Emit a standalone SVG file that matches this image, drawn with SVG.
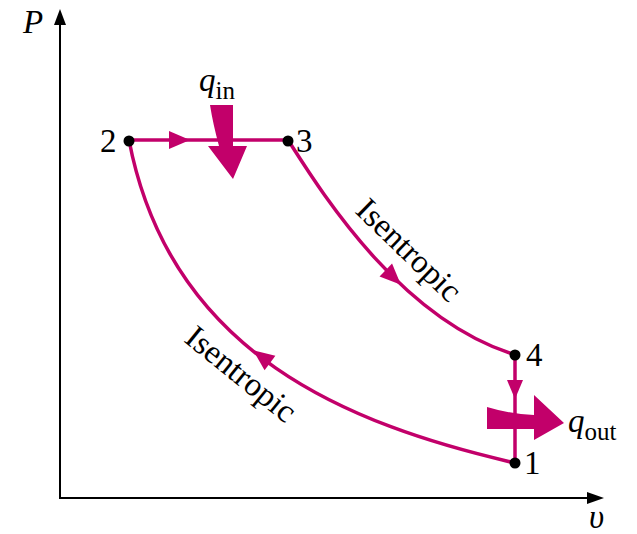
<svg xmlns="http://www.w3.org/2000/svg" width="637" height="534" viewBox="0 0 637 534">
<style>
.ax{stroke:#000;stroke-width:2;fill:none}
.pr{stroke:#C2006A;stroke-width:3.5;fill:none}
.mf{fill:#C2006A}
.dot{fill:#000}
.lbl{font-family:"Liberation Serif","Times New Roman",serif;font-size:33px;fill:#000}
.it{font-style:italic}
</style>
<rect width="637" height="534" fill="#fff"/>
<g id="axes">
<line class="ax" x1="60" y1="498" x2="60" y2="22"/>
<polygon points="60,9 54,25 66,25" fill="#000"/>
<line class="ax" x1="59" y1="498" x2="590" y2="498"/>
<polygon points="604,498 587,492 587,504" fill="#000"/>
<text class="lbl it" x="23" y="33" font-size="29">P</text>
<text class="lbl it" x="589" y="528" font-size="27">υ</text>
</g>
<g id="connectors">
<line class="pr" x1="129" y1="140" x2="288" y2="140"/>
<polygon class="mf" points="190,140 169,131 169,149"/>
<path class="pr" d="M288,140 C320,190 400,320 516,355"/>
<polygon class="mf" points="11,0 -10,-9 -10,9" transform="translate(393,277) rotate(44)"/>
<line class="pr" x1="515" y1="355" x2="515" y2="463"/>
<polygon class="mf" points="515,399 507,380 523,380"/>
<path class="pr" d="M515,463 C350,425 170,355 129,140"/>
<polygon class="mf" points="11,0 -10,-9 -10,9" transform="translate(262,357) rotate(217)"/>
</g>
<g id="qin">
<path class="mf" d="M210,105 L233,105 L233,146 L247,146 L233,179 L208,146 L219,146 Q213,124 210,105 Z"/>
<text class="lbl" x="199" y="91" font-size="32"><tspan class="it">q</tspan><tspan font-size="25" dy="8">in</tspan></text>
</g>
<g id="qout">
<path class="mf" d="M487,407 Q510,414 534,415 L534,395 L564,423 L534,440 L534,429 L487,429 Z"/>
<text class="lbl" x="568" y="432" font-size="32"><tspan class="it">q</tspan><tspan font-size="25" dy="8">out</tspan></text>
</g>
<g id="n1"><circle class="dot" cx="515" cy="463" r="5.5"/><text class="lbl" x="524" y="474">1</text></g>
<g id="n2"><circle class="dot" cx="129" cy="141" r="5.5"/><text class="lbl" x="100" y="152">2</text></g>
<g id="n3"><circle class="dot" cx="288" cy="141" r="5.5"/><text class="lbl" x="296" y="152">3</text></g>
<g id="n4"><circle class="dot" cx="515" cy="355" r="5.5"/><text class="lbl" x="526" y="366">4</text></g>
<g id="labels">
<text class="lbl" transform="translate(354,212) rotate(44)">Isentropic</text>
<text class="lbl" transform="translate(183,341) rotate(39)">Isentropic</text>
</g>
</svg>
